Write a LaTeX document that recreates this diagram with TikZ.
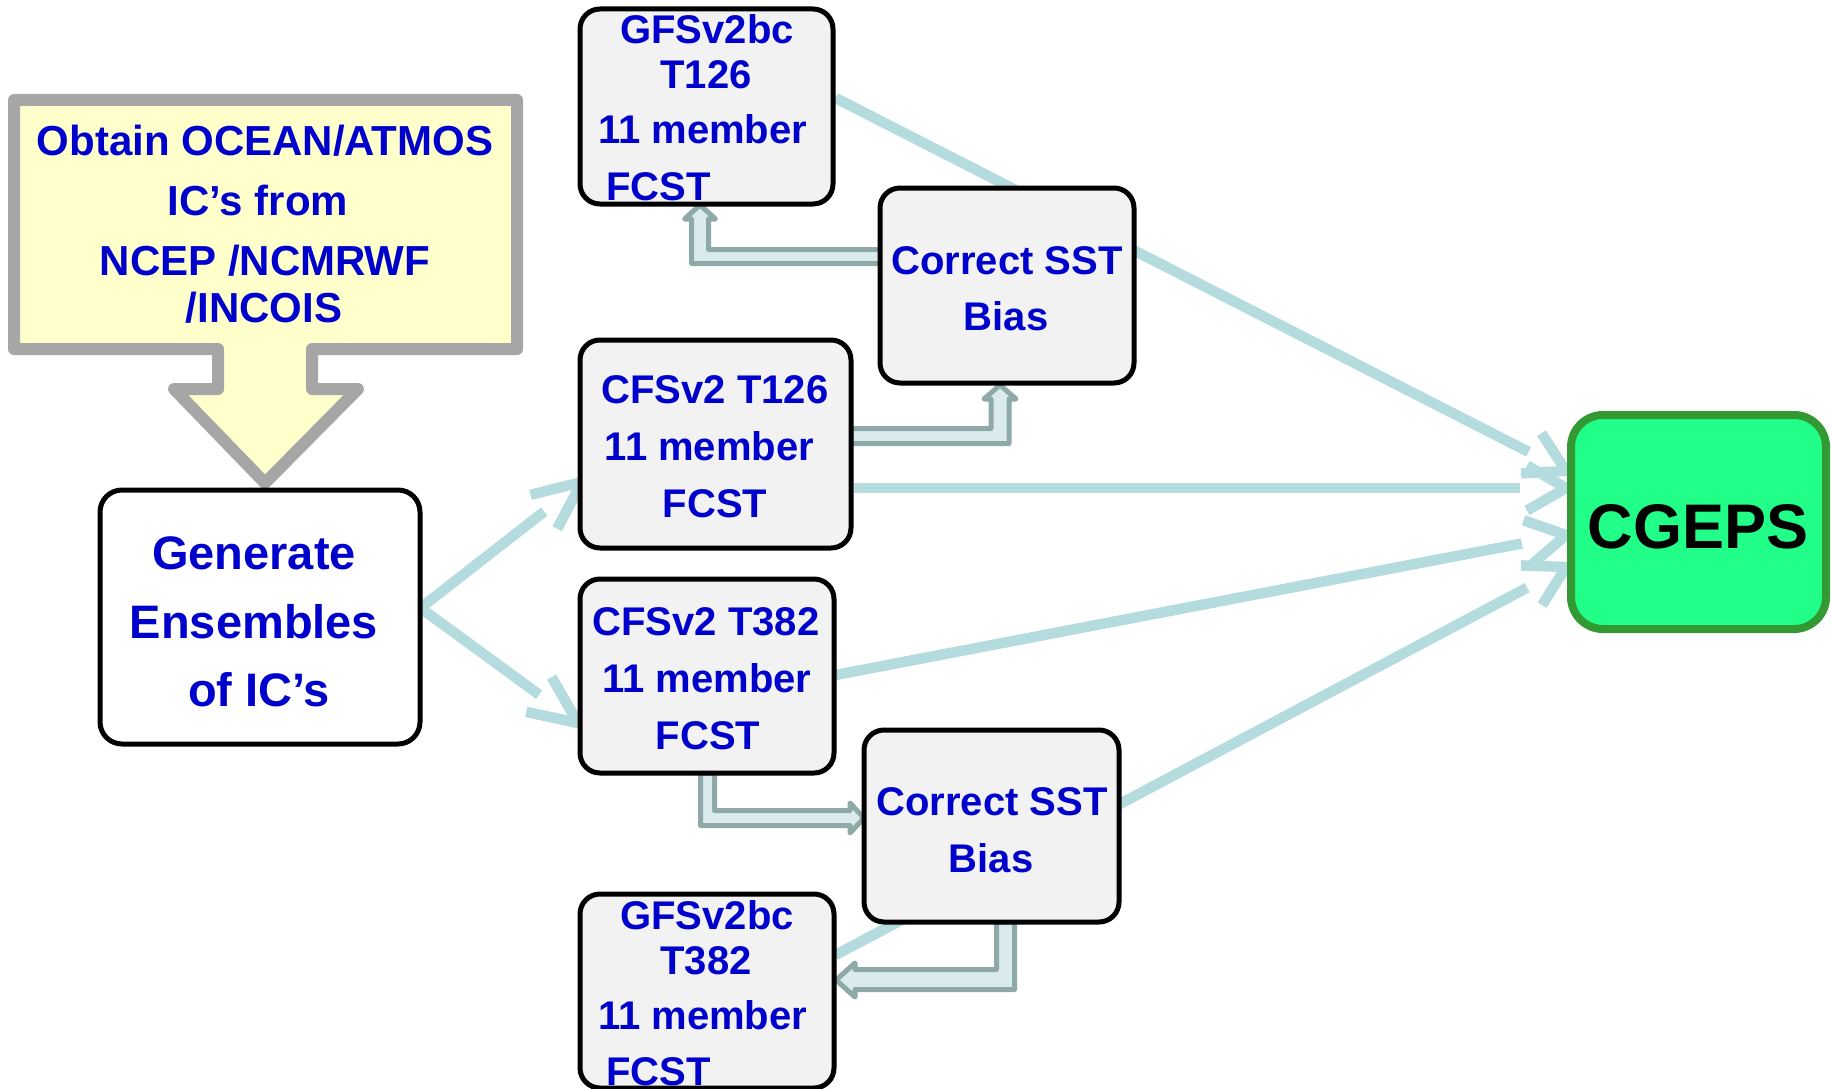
\documentclass[tikz,border=0pt]{standalone}
\usepackage{fontspec}
\setmainfont{Liberation Sans}
\usetikzlibrary{calc,backgrounds}

\definecolor{txtblue}{RGB}{0,0,204}
\definecolor{flow}{RGB}{180,220,222}
\definecolor{blkstroke}{RGB}{143,168,168}
\definecolor{blkfill}{RGB}{218,235,238}
\definecolor{callfill}{RGB}{255,255,204}
\definecolor{callgray}{RGB}{166,166,166}
\definecolor{boxfill}{RGB}{242,242,242}
\definecolor{cgfill}{RGB}{34,255,136}
\definecolor{cgstroke}{RGB}{51,153,51}

\begin{document}
\begin{tikzpicture}[x=1pt,y=-1pt,
  fcbox/.style={draw=black, line width=5pt, fill=boxfill, rounded corners=20pt, inner sep=0pt},
  genbox/.style={draw=black, line width=5pt, fill=white, rounded corners=22pt, inner sep=0pt},
  lbl/.style={font=\bfseries\fontsize{40pt}{48pt}\selectfont, text=txtblue, inner sep=0pt, anchor=base},
  biglbl/.style={font=\bfseries\fontsize{47pt}{56pt}\selectfont, text=txtblue, inner sep=0pt, anchor=base},
  calllbl/.style={font=\bfseries\fontsize{42pt}{50pt}\selectfont, text=txtblue, inner sep=0pt, anchor=base},
  flowline/.style={draw=flow, line width=10.5pt, line cap=butt},
  flowhead/.style={draw=flow, line width=10.5pt, line cap=butt, line join=miter},
  blkarrow/.style={draw=blkstroke, fill=blkfill, line width=5pt, line join=round},
]
\useasboundingbox (0,0) rectangle (1831,1089);

% callout: source of the initial conditions
\draw[draw=callgray, fill=callfill, line width=12pt, line join=round]
  (14,100) -- (517,100) -- (517,349) -- (312,349) -- (312,389) -- (358,389)
  -- (265,483) -- (174,389) -- (218,389) -- (218,349) -- (14,349) -- cycle;
\node[calllbl] (ob1) at (265,155) {Obtain OCEAN/ATMOS};
\node[calllbl] (ob2) at (258,215) {IC’s from};
\node[calllbl] (ob3) at (265,275) {NCEP /NCMRWF};
\node[calllbl] (ob4) at (264,322) {/INCOIS};

% ensemble generation
\node[genbox, minimum width=320pt, minimum height=254pt] (gen) at (260,617) {};
\node[biglbl] (gen1) at (254,569) {Generate};
\node[biglbl] (gen2) at (254,638) {Ensembles};
\node[biglbl] (gen3) at (259,706) {of IC’s};

% model forecast boxes
\node[fcbox, minimum width=253pt, minimum height=195pt] (gfsa) at (706.5,106.5) {};
\node[lbl] (gfsa1) at (707,44) {GFSv2bc};
\node[lbl] (gfsa2) at (706,89) {T126};
\node[lbl, anchor=base west] (gfsa3) at (598,144) {11 member};
\node[lbl, anchor=base west] (gfsa4) at (606,200) {FCST};

\node[fcbox, minimum width=271pt, minimum height=208pt] (cfsa) at (715.5,444) {};
\node[lbl] (cfsa1) at (715,403) {CFSv2 T126};
\node[lbl] (cfsa2) at (709.5,460) {11 member};
\node[lbl] (cfsa3) at (715,517) {FCST};

\node[fcbox, minimum width=254pt, minimum height=194pt] (cfsb) at (707,676) {};
\node[lbl] (cfsb1) at (706,635) {CFSv2 T382};
\node[lbl] (cfsb2) at (707,692) {11 member};
\node[lbl] (cfsb3) at (708,749) {FCST};

\node[fcbox, minimum width=254pt, minimum height=194pt] (gfsb) at (707,991) {};
\node[lbl] (gfsb1) at (707,929) {GFSv2bc};
\node[lbl] (gfsb2) at (706,974) {T382};
\node[lbl, anchor=base west] (gfsb3) at (598,1029) {11 member};
\node[lbl, anchor=base west] (gfsb4) at (606,1085) {FCST};

% SST bias correction boxes
\node[fcbox, minimum width=254pt, minimum height=195pt] (ssta) at (1007,285.5) {};
\node[lbl] (ssta1) at (1007,274) {Correct SST};
\node[lbl] (ssta2) at (1006,330) {Bias};

\node[fcbox, minimum width=255pt, minimum height=192pt] (sstb) at (991.5,826) {};
\node[lbl] (sstb1) at (992,815) {Correct SST};
\node[lbl] (sstb2) at (991,872) {Bias};

% grand ensemble
\node[draw=cgstroke, fill=cgfill, line width=8pt, rounded corners=32pt, inner sep=0pt,
      minimum width=255pt, minimum height=214pt] (cgeps) at (1698.5,522) {};
\node[font=\bfseries\fontsize{63pt}{72pt}\selectfont, inner sep=0pt, anchor=base]
  (cgepst) at (1698,548) {CGEPS};

% connector end points on the box borders
\coordinate (g0) at ($(gen.east)+(-2,-9)$);
\coordinate (ca) at (582,482);
\coordinate (cb) at (578,723);
\coordinate (s1) at ($(gfsa.east)+(0,-8.5)$);
\coordinate (s2) at (cfsa.east |- 0,488);
\coordinate (s3) at ($(cfsb.east)+(-1,-1)$);
\coordinate (s4) at ($(gfsb.east)+(-1,-36)$);
\coordinate (e1) at (1566,471);
\coordinate (e2) at (1566,488);
\coordinate (e3) at (1566,535);
\coordinate (e4) at (1566,567);

\begin{scope}[on background layer]
  % ensemble spread to the two CFSv2 runs
  \draw[flowline] (g0) -- ($(ca)!48pt!(g0)$);
  \draw[flowhead] ($(ca)!53pt!24:(g0)$) -- (ca) -- ($(ca)!53pt!-24:(g0)$);
  \draw[flowline] (g0) -- ($(cb)!48pt!(g0)$);
  \draw[flowhead] ($(cb)!53pt!24:(g0)$) -- (cb) -- ($(cb)!53pt!-24:(g0)$);

  % all four forecasts feed the grand ensemble
  \draw[flowline] (s1) -- ($(e1)!42pt!(s1)$);
  \draw[flowhead] ($(e1)!45pt!30:(s1)$) -- (e1) -- ($(e1)!45pt!-30:(s1)$);
  \draw[flowline] (s2) -- ($(e2)!46pt!(s2)$);
  \draw[flowhead] ($(e2)!45pt!30:(s2)$) -- (e2) -- ($(e2)!45pt!-30:(s2)$);
  \draw[flowline] (s3) -- ($(e3)!45pt!(s3)$);
  \draw[flowhead] ($(e3)!45pt!30:(s3)$) -- (e3) -- ($(e3)!45pt!-30:(s3)$);
  \draw[flowline] (s4) -- ($(e4)!44pt!(s4)$);
  \draw[flowhead] ($(e4)!45pt!30:(s4)$) -- (e4) -- ($(e4)!45pt!-30:(s4)$);

  % bias-corrected SST handed between the coupled and atmosphere-only runs
  \draw[blkarrow] (881,263.5) -- (691.5,263.5) -- (691.5,219) -- (684.5,219) -- (700,205)
    -- (715.5,219) -- (708.5,219) -- (708.5,249.5) -- (881,249.5) -- cycle;
  \draw[blkarrow] (851,443.5) -- (1009,443.5) -- (1009,399) -- (1016,399) -- (1000,385)
    -- (984,399) -- (991,399) -- (991,428.5) -- (851,428.5) -- cycle;
  \draw[blkarrow] (700.5,773) -- (700.5,825.5) -- (850,825.5) -- (850,833) -- (864,818)
    -- (850,803) -- (850,810.5) -- (714.5,810.5) -- (714.5,773) -- cycle;
  \draw[blkarrow] (996.5,922) -- (996.5,969.5) -- (855,969.5) -- (855,963) -- (836,980)
    -- (855,997) -- (855,989.5) -- (1014.5,989.5) -- (1014.5,922) -- cycle;
\end{scope}
\end{tikzpicture}
\end{document}
